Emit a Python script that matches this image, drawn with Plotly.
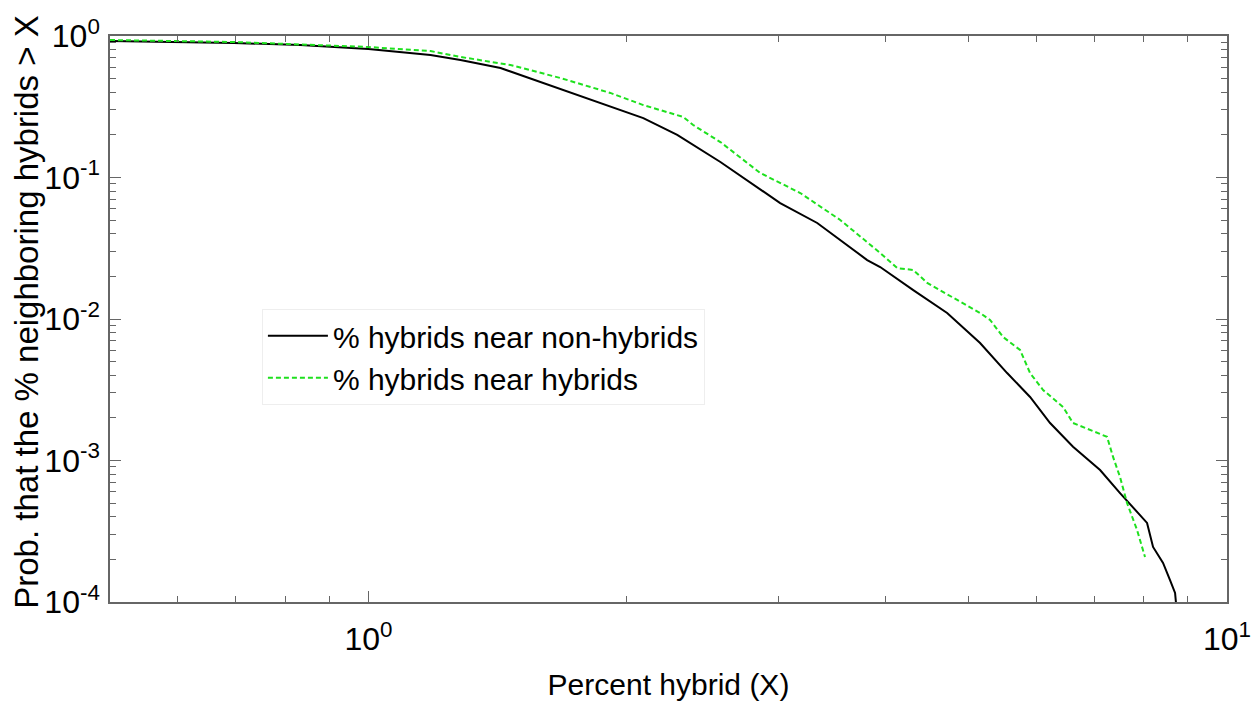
import plotly.graph_objects as go

# Black: % hybrids near non-hybrids
x_non = [0.500, 0.697, 0.833, 1.00, 1.181, 1.280, 1.425, 1.598, 1.828, 2.090, 2.289,
         2.570, 3.017, 3.332, 3.810, 3.945, 4.311, 4.721, 5.157, 5.545, 5.897,
         6.222, 6.617, 7.115, 7.506, 7.773, 8.070, 8.201, 8.424, 8.583, 8.700, 8.722]
y_non = [0.922, 0.892, 0.864, 0.809, 0.734, 0.677, 0.594, 0.465, 0.353, 0.263, 0.200,
         0.1287, 0.0660, 0.0477, 0.0261, 0.0233, 0.0160, 0.01102, 0.00677,
         0.00415, 0.00281, 0.00184, 0.00125, 0.000857, 0.000589, 0.000469, 0.000362,
         0.000245, 0.000189, 0.000143, 0.000116, 0.000098]

# Green: % hybrids near hybrids
x_hyb = [0.500, 0.697, 1.00, 1.181, 1.280, 1.463, 1.673, 1.913, 2.090, 2.326, 2.389,
         2.570, 2.860, 3.184, 3.544, 3.945, 4.129, 4.311, 4.475, 4.671, 4.928, 5.157,
         5.297, 5.485, 5.741, 5.897, 6.106, 6.443, 6.617, 7.249, 7.367, 7.506, 7.648,
         7.856, 8.026]
y_hyb = [0.937, 0.907, 0.836, 0.783, 0.711, 0.624, 0.505, 0.396, 0.325, 0.268, 0.235,
         0.178, 0.1076, 0.0777, 0.0501, 0.0293, 0.0229, 0.0222, 0.0180, 0.0155, 0.0130,
         0.01102, 0.00984, 0.00746, 0.00604, 0.00415, 0.00315, 0.00239, 0.00184,
         0.00147, 0.00106, 0.000764, 0.000501, 0.000323, 0.000208]

x_tickvals = [1, 10]
x_ticktext = ["10<sup>0</sup>", "10<sup>1</sup>"]
x_minor = [0.5, 0.6, 0.7, 0.8, 0.9, 2, 3, 4, 5, 6, 7, 8, 9]
y_tickvals = [1, 0.1, 0.01, 0.001, 0.0001]
y_ticktext = ["10<sup>0</sup>", "10<sup>-1</sup>", "10<sup>-2</sup>", "10<sup>-3</sup>", "10<sup>-4</sup>"]
y_minor = [m * d for d in [0.0001, 0.001, 0.01, 0.1] for m in range(2, 10)]

x_title = "Percent hybrid (X)"
y_title = "Prob. that the % neighboring hybrids > X"

FONT = "Liberation Sans, Arial, Helvetica, sans-serif"
AXC = "#666666"

fig = go.Figure()
fig.add_trace(go.Scatter(x=x_non, y=y_non, mode="lines", name="% hybrids near non-hybrids",
                         line=dict(color="black", width=2)))
fig.add_trace(go.Scatter(x=x_hyb, y=y_hyb, mode="lines", name="% hybrids near hybrids",
                         line=dict(color="#1ee01e", width=2, dash="5px,3px")))

axis_common = dict(type="log", showgrid=False, zeroline=False, showline=True,
                   linecolor=AXC, linewidth=1.5, mirror="allticks", ticks="inside",
                   ticklen=11, tickwidth=1.2, tickcolor=AXC,
                   tickfont=dict(family=FONT, size=32, color="black"))

fig.update_xaxes(**axis_common, range=[-0.30103, 1], tickmode="array",
                 tickvals=x_tickvals, ticktext=x_ticktext, ticklabelstandoff=8,
                 minor=dict(ticks="inside", ticklen=6, tickwidth=1.2, tickcolor=AXC,
                            tickmode="array", tickvals=x_minor, showgrid=False),
                 title=dict(text=x_title, font=dict(family=FONT, size=30, color="black"),
                            standoff=18))
fig.update_yaxes(**axis_common, range=[-4, 0], tickmode="array",
                 tickvals=y_tickvals, ticktext=y_ticktext, ticklabelstandoff=2,
                 minor=dict(ticks="inside", ticklen=6, tickwidth=1.2, tickcolor=AXC,
                            tickmode="array", tickvals=y_minor, showgrid=False))

fig.add_annotation(text=y_title, xref="paper", yref="paper", x=-0.0743, y=0.511,
                   xanchor="center", yanchor="middle", textangle=-90, showarrow=False,
                   font=dict(family=FONT, size=33, color="black"))

fig.update_layout(
    width=1254, height=703,
    margin=dict(l=110, r=27, t=36, b=101, autoexpand=False),
    paper_bgcolor="white", plot_bgcolor="white",
    showlegend=True,
    legend=dict(x=0.136, y=0.518, xanchor="left", yanchor="top",
                bgcolor="white", bordercolor="#eeeeee", borderwidth=1,
                font=dict(family=FONT, size=30, color="black"),
                itemwidth=60, tracegroupgap=0),
)

fig.write_html("out.html")
